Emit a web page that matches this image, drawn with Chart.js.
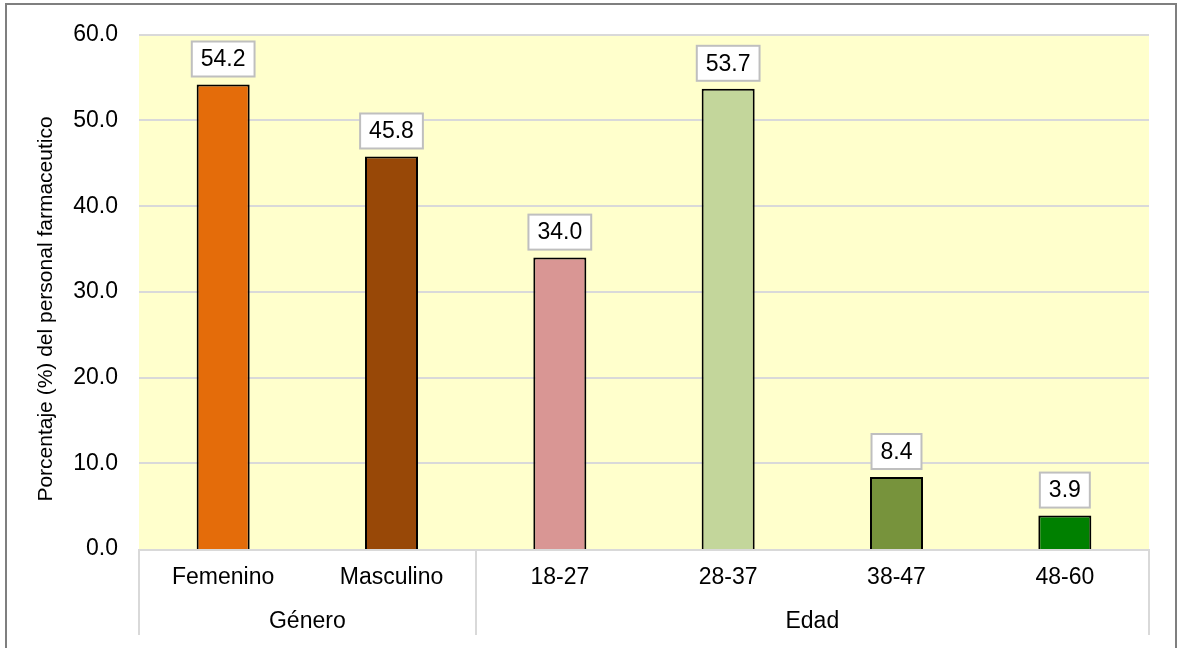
<!DOCTYPE html>
<html>
<head>
<meta charset="utf-8">
<script src="https://cdn.jsdelivr.net/npm/chart.js@4/dist/chart.umd.min.js"></script>
<style>
  html, body { margin: 0; padding: 0; background: #fff; }
  #wrap { width: 1178px; height: 648px; position: relative; }
</style>
</head>
<body>
<div id="wrap"><canvas id="barChart" width="1178" height="648"></canvas></div>
<script>
const CATEGORIES = ['Femenino', 'Masculino', '18-27', '28-37', '38-47', '48-60'];
const VALUES = [54.2, 45.8, 34.0, 53.7, 8.4, 3.9];
const BAR_COLORS = ['#E46C0A', '#984807', '#D99694', '#C3D69B', '#77933C', '#008000'];
const GROUPS = ['Género', 'Edad'];
const GROUP_SIZES = [2, 4];
const Y_TICKS = [0, 10, 20, 30, 40, 50, 60];
const Y_TITLE = 'Porcentaje (%) del personal farmaceutico';

const FONT = 'Liberation Sans, Arial, sans-serif';
const GRID = '#D9D9D9';
const TEXT_SIZE = 23;

// pale plot background, grouped category axis, value boxes, frame
const decor = {
  id: 'decor',
  beforeDatasetsDraw(chart) {
    const { ctx, chartArea: a } = chart;
    ctx.save();
    ctx.fillStyle = '#FFFFCC';
    ctx.fillRect(a.left, a.top, a.right - a.left, a.bottom - a.top);
    // grid lines on top of the fill
    const y = chart.scales.y;
    ctx.strokeStyle = GRID;
    ctx.lineWidth = 2;
    Y_TICKS.forEach(t => {
      if (t === 0) return;
      const py = Math.round(y.getPixelForValue(t));
      ctx.beginPath();
      ctx.moveTo(a.left, py);
      ctx.lineTo(a.right, py);
      ctx.stroke();
    });
    ctx.restore();
  },
  afterDraw(chart) {
    const { ctx, chartArea: a } = chart;
    const x = chart.scales.x;
    const sepBottom = 635;
    ctx.save();

    // category axis line and group separators
    ctx.strokeStyle = GRID;
    ctx.lineWidth = 2;
    ctx.beginPath();
    ctx.moveTo(a.left, a.bottom + 1);
    ctx.lineTo(a.right, a.bottom + 1);
    ctx.stroke();

    let start = 0;
    const edges = [a.left];
    GROUP_SIZES.forEach(n => {
      start += n;
      edges.push(start >= CATEGORIES.length ? a.right : x.getPixelForValue(start - 0.5));
    });
    edges.forEach(px => {
      ctx.beginPath();
      ctx.moveTo(Math.round(px), a.bottom);
      ctx.lineTo(Math.round(px), sepBottom);
      ctx.stroke();
    });

    ctx.fillStyle = '#000';
    ctx.font = TEXT_SIZE + 'px ' + FONT;
    ctx.textAlign = 'center';
    ctx.textBaseline = 'middle';
    GROUPS.forEach((g, i) => {
      ctx.fillText(g, (edges[i] + edges[i + 1]) / 2, 622);
    });

    // value boxes above each bar
    const meta = chart.getDatasetMeta(0);
    meta.data.forEach((bar, i) => {
      const txt = VALUES[i].toFixed(1);
      const w = ctx.measureText(txt).width + 18;
      const h = 35;
      const bx = bar.x - w / 2;
      const by = bar.y - 8 - h;
      ctx.fillStyle = '#fff';
      ctx.fillRect(bx, by, w, h);
      ctx.strokeStyle = '#BFBFBF';
      ctx.lineWidth = 2;
      ctx.strokeRect(bx, by, w, h);
      ctx.fillStyle = '#000';
      ctx.fillText(txt, bar.x, by + h / 2 + 1);
    });

    // y axis title
    ctx.save();
    ctx.translate(46, 309);
    ctx.rotate(-Math.PI / 2);
    ctx.font = '21px ' + FONT;
    ctx.fillText(Y_TITLE, 0, 0);
    ctx.restore();

    // outer frame
    ctx.strokeStyle = '#7F7F7F';
    ctx.lineWidth = 2;
    ctx.beginPath();
    ctx.moveTo(6, 660);
    ctx.lineTo(6, 4);
    ctx.lineTo(1176, 4);
    ctx.lineTo(1176, 660);
    ctx.stroke();

    ctx.restore();
  }
};

new Chart(document.getElementById('barChart'), {
  type: 'bar',
  data: {
    labels: CATEGORIES,
    datasets: [{
      data: VALUES,
      backgroundColor: BAR_COLORS,
      borderColor: '#000',
      borderWidth: 2,
      borderSkipped: 'bottom',
      categoryPercentage: 1,
      barPercentage: 0.315
    }]
  },
  options: {
    responsive: false,
    animation: false,
    layout: { padding: { left: 0, top: 33, right: 29, bottom: 0 } },
    plugins: {
      legend: { display: false },
      tooltip: { enabled: false }
    },
    scales: {
      x: {
        grid: { display: false, drawTicks: false },
        border: { display: false },
        ticks: { color: '#000', font: { family: FONT, size: TEXT_SIZE }, padding: 15 },
        afterFit: s => { s.height = 99; }
      },
      y: {
        min: 0,
        max: 60,
        afterBuildTicks: s => { s.ticks = Y_TICKS.map(v => ({ value: v })); },
        grid: { display: false, drawTicks: false },
        border: { display: false },
        ticks: {
          color: '#000',
          font: { family: FONT, size: TEXT_SIZE },
          padding: 21,
          callback: v => v.toFixed(1)
        },
        afterFit: s => { s.width = 139; }
      }
    }
  },
  plugins: [decor]
});
</script>
</body>
</html>
